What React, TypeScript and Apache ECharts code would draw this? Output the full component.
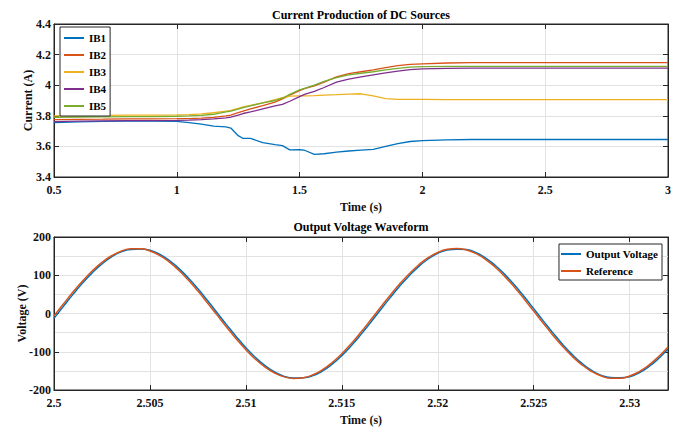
import React, { useEffect, useRef } from 'react';
import * as echarts from 'echarts';

// ---------- Top chart: current production (time in s, current in A) ----------
const tTop = [0.5, 0.6, 0.7, 0.8, 0.9, 1.0, 1.05, 1.1, 1.15, 1.2, 1.22, 1.25, 1.27, 1.3, 1.35, 1.4, 1.43, 1.46, 1.5, 1.52, 1.56, 1.6, 1.65, 1.7, 1.75, 1.8, 1.85, 1.9, 1.95, 2.0, 2.1, 2.2, 2.4, 2.6, 2.8, 3.0];
const ib1 = [3.755, 3.76, 3.763, 3.765, 3.765, 3.763, 3.755, 3.745, 3.733, 3.728, 3.72, 3.67, 3.652, 3.652, 3.625, 3.612, 3.605, 3.577, 3.578, 3.575, 3.548, 3.552, 3.562, 3.57, 3.575, 3.58, 3.6, 3.618, 3.632, 3.638, 3.643, 3.645, 3.645, 3.645, 3.645, 3.645];
const ib2 = [3.775, 3.777, 3.778, 3.78, 3.78, 3.781, 3.782, 3.785, 3.79, 3.8, 3.805, 3.82, 3.83, 3.845, 3.866, 3.89, 3.91, 3.935, 3.965, 3.978, 3.995, 4.02, 4.055, 4.075, 4.088, 4.1, 4.115, 4.128, 4.136, 4.14, 4.145, 4.147, 4.148, 4.148, 4.148, 4.148];
const ib3 = [3.8, 3.802, 3.803, 3.804, 3.805, 3.806, 3.808, 3.812, 3.82, 3.83, 3.835, 3.848, 3.858, 3.868, 3.885, 3.905, 3.918, 3.928, 3.93, 3.93, 3.932, 3.935, 3.938, 3.942, 3.944, 3.93, 3.912, 3.908, 3.907, 3.907, 3.906, 3.906, 3.906, 3.906, 3.906, 3.906];
const ib4 = [3.762, 3.765, 3.767, 3.768, 3.768, 3.77, 3.772, 3.775, 3.78, 3.787, 3.792, 3.805, 3.815, 3.825, 3.845, 3.865, 3.875, 3.895, 3.925, 3.94, 3.96, 3.985, 4.02, 4.04, 4.055, 4.068, 4.08, 4.092, 4.102, 4.107, 4.11, 4.112, 4.112, 4.112, 4.112, 4.112];
const ib5 = [3.79, 3.792, 3.793, 3.794, 3.795, 3.797, 3.799, 3.803, 3.81, 3.825, 3.83, 3.843, 3.853, 3.865, 3.885, 3.9, 3.915, 3.94, 3.97, 3.98, 4.0, 4.025, 4.05, 4.068, 4.078, 4.088, 4.1, 4.11, 4.118, 4.121, 4.123, 4.123, 4.123, 4.123, 4.123, 4.123];
const topNames = ['IB1', 'IB2', 'IB3', 'IB4', 'IB5'];
const topSeries = [ib1, ib2, ib3, ib4, ib5];
const topTicksX = { min: 0.5, max: 3, interval: 0.5 };
const topTicksY = { min: 3.4, max: 4.4, interval: 0.2 };

// ---------- Bottom chart: output voltage (samples every 0.5 ms from 2.5 s) ----------
const tStart = 2.5;
const tStep = 0.0005;
const refV = [-6.4, 25.5, 56.6, 85.6, 111.6, 133.7, 151.0, 162.9, 169.1, 169.3, 163.5, 152.0, 135.0, 113.2, 87.4, 58.6, 27.6, -4.3, -36.0, -66.5, -94.7, -119.5, -140.0, -155.6, -165.7, -169.9, -168.1, -160.3, -146.9, -128.1, -105.1, -78.1, -48.5, -17.1, 14.9, 46.4, 76.2, 103.3, 126.8, 145.8, 159.6, 167.7, 170.0, 166.1, 156.4, 141.1, 121.0, 96.4, 68.5, 38.1, 6.4, -25.5, -56.6, -85.6, -111.6, -133.7, -151.0, -162.9, -169.1, -169.3, -163.5, -152.0, -135.0, -113.2, -87.4];
const outV = [-12.8, 19.2, 50.6, 80.1, 106.8, 129.7, 148.1, 161.1, 167.5, 168.5, 165.2, 154.9, 138.9, 118.0, 92.9, 64.6, 33.9, 2.1, -29.7, -60.6, -89.4, -114.9, -136.4, -153.0, -164.3, -168.5, -168.0, -162.4, -150.1, -132.3, -110.1, -83.8, -54.6, -23.5, 8.5, 40.2, 70.5, 98.2, 122.5, 142.5, 157.4, 166.0, 168.0, 167.0, 158.9, 144.7, 125.5, 101.7, 74.4, 44.3, 12.8, -19.2, -50.6, -80.1, -106.8, -129.7, -148.1, -161.1, -167.5, -168.0, -165.2, -154.9, -138.9, -118.0, -92.9];
const botNames = ['Output Voltage', 'Reference'];
const botTicksX = { min: 2.5, max: 2.532, interval: 0.005 };
const botTicksY = { min: -200, max: 200, interval: 100 };

const colors = ['#0072BD', '#D95319', '#EDB120', '#7E2F8E', '#77AC30'];
const FONT = 'Liberation Serif';
const AX = '#262626';
const GRID = '#e2e2e2';

const labelStyle = { fontFamily: FONT, fontSize: 12, fontWeight: 'bold' as const, color: '#111' };

function mainX(gridIndex: number, ticks: any, name: string, fmt?: (v: number) => string) {
  return {
    type: 'value', gridIndex, position: 'bottom', ...ticks,
    axisLine: { show: true, onZero: false, lineStyle: { color: AX, width: 1 } },
    axisTick: { show: true, inside: true, length: 5, lineStyle: { color: AX } },
    axisLabel: { ...labelStyle, margin: 7, formatter: fmt },
    splitLine: { show: true, lineStyle: { color: GRID, width: 1 } },
    name, nameLocation: 'middle', nameGap: 24, nameMoveOverlap: false,
    nameTextStyle: { ...labelStyle },
  };
}
function boxX(gridIndex: number, ticks: any) {
  return {
    type: 'value', gridIndex, position: 'top', ...ticks,
    axisLine: { show: true, onZero: false, lineStyle: { color: AX } },
    axisTick: { show: true, inside: true, length: 5, lineStyle: { color: AX } },
    axisLabel: { show: false }, splitLine: { show: false },
  };
}
function mainY(gridIndex: number, ticks: any, name: string, gap: number, minor: boolean) {
  return {
    type: 'value', gridIndex, position: 'left', ...ticks,
    axisLine: { show: true, onZero: false, lineStyle: { color: AX } },
    axisTick: { show: true, inside: true, length: 5, lineStyle: { color: AX } },
    axisLabel: { ...labelStyle, margin: 3 },
    splitLine: { show: true, lineStyle: { color: GRID, width: 1 } },
    minorTick: { show: false, splitNumber: 2 },
    minorSplitLine: { show: minor, lineStyle: { color: GRID, width: 1 } },
    name, nameLocation: 'middle', nameGap: gap, nameMoveOverlap: false,
    nameTextStyle: { ...labelStyle },
  };
}
function boxY(gridIndex: number, ticks: any) {
  return {
    type: 'value', gridIndex, position: 'right', ...ticks,
    axisLine: { show: true, onZero: false, lineStyle: { color: AX } },
    axisTick: { show: true, inside: true, length: 5, lineStyle: { color: AX } },
    axisLabel: { show: false }, splitLine: { show: false },
  };
}

export default function App() {
  const ref = useRef<HTMLDivElement>(null);
  useEffect(() => {
    if (!ref.current) return;
    const chart = echarts.init(ref.current, null, { renderer: 'svg' });
    const series: any[] = [];
    topSeries.forEach((vals, i) => {
      series.push({
        name: topNames[i], type: 'line', xAxisIndex: 0, yAxisIndex: 0,
        data: tTop.map((t, k) => [t, vals[k]]),
        symbol: 'none', lineStyle: { width: 1.3, color: colors[i] }, itemStyle: { color: colors[i] },
      });
    });
    [outV, refV].forEach((vals, i) => {
      series.push({
        name: botNames[i], type: 'line', xAxisIndex: 2, yAxisIndex: 2,
        data: vals.map((v, k) => [tStart + k * tStep, v]),
        symbol: 'none', smooth: true, lineStyle: { width: 1.5, color: colors[i] }, itemStyle: { color: colors[i] },
      });
    });
    const legendCommon = {
      orient: 'vertical', icon: 'rect', itemWidth: 20, itemHeight: 2, itemGap: 5,
      backgroundColor: '#fff', borderColor: AX, borderWidth: 1, borderRadius: 0,
      textStyle: { ...labelStyle, fontSize: 11, color: '#000', lineHeight: 12 },
    };
    chart.setOption({
      animation: false,
      backgroundColor: '#fff',
      graphic: [
        { type: 'text', x: 361, y: 15, style: { text: 'Current Production of DC Sources', align: 'center', verticalAlign: 'middle', fontFamily: FONT, fontSize: 12, fontWeight: 'bold', fill: '#000' } },
        { type: 'text', x: 361, y: 227, style: { text: 'Output Voltage Waveform', align: 'center', verticalAlign: 'middle', fontFamily: FONT, fontSize: 12, fontWeight: 'bold', fill: '#000' } },
      ],
      legend: [
        { ...legendCommon, data: topNames, left: 60, top: 27, padding: [5, 4, 4, 4] },
        { ...legendCommon, data: botNames, right: 18, top: 244, padding: [4, 4, 3, 2] },
      ],
      grid: [
        { left: 54, top: 24, width: 614, height: 153, show: true, borderColor: AX, borderWidth: 1, backgroundColor: 'transparent' },
        { left: 54, top: 237, width: 614, height: 153, show: true, borderColor: AX, borderWidth: 1, backgroundColor: 'transparent' },
      ],
      xAxis: [
        mainX(0, topTicksX, 'Time (s)'),
        boxX(0, topTicksX),
        mainX(1, botTicksX, 'Time (s)', (v: number) => (v > 2.5305 ? '' : String(+v.toFixed(3)))),
        boxX(1, botTicksX),
      ],
      yAxis: [
        mainY(0, topTicksY, 'Current (A)', 20, false),
        boxY(0, topTicksY),
        mainY(1, botTicksY, 'Voltage (V)', 26, true),
        boxY(1, botTicksY),
      ],
      series,
    });
    return () => chart.dispose();
  }, []);
  return <div ref={ref} style={{ position: 'fixed', left: 0, top: 0, width: 680, height: 428 }} />;
}
